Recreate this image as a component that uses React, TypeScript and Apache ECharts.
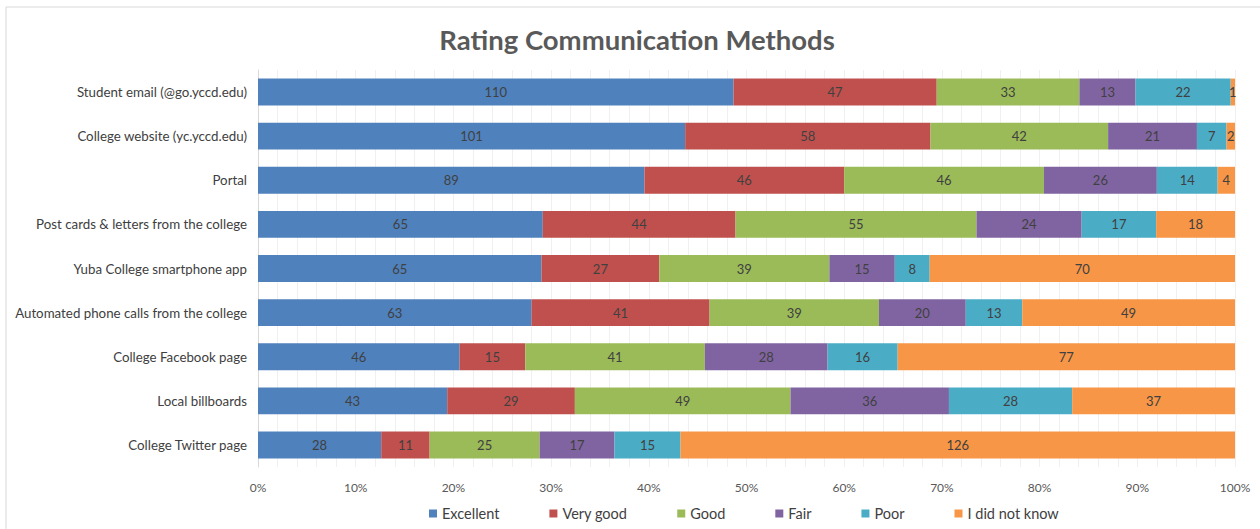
import React, { useEffect, useRef } from "react";
import * as echarts from "echarts";

const categories = [
  "Student email (@go.yccd.edu)",
  "College website (yc.yccd.edu)",
  "Portal",
  "Post cards & letters from the college",
  "Yuba College smartphone app",
  "Automated phone calls from the college",
  "College Facebook page",
  "Local billboards",
  "College Twitter page",
];

const seriesNames = ["Excellent", "Very good", "Good", "Fair", "Poor", "I did not know"];
const seriesColors = ["#4F81BD", "#C0504D", "#9BBB59", "#8064A2", "#4BACC6", "#F79646"];

const excellent = [110, 101, 89, 65, 65, 63, 46, 43, 28];
const veryGood = [47, 58, 46, 44, 27, 41, 15, 29, 11];
const good = [33, 42, 46, 55, 39, 39, 41, 49, 25];
const fair = [13, 21, 26, 24, 15, 20, 28, 36, 17];
const poor = [22, 7, 14, 17, 8, 13, 16, 28, 15];
const didNotKnow = [1, 2, 4, 18, 70, 49, 77, 37, 126];

const xTicks = ["0%", "10%", "20%", "30%", "40%", "50%", "60%", "70%", "80%", "90%", "100%"];

const FONT = "Lato, 'Open Sans', sans-serif";

export default function App() {
  const ref = useRef<HTMLDivElement>(null);

  useEffect(() => {
    if (!ref.current) return;
    const chart = echarts.init(ref.current, undefined, { renderer: "svg" });
    const all = [excellent, veryGood, good, fair, poor, didNotKnow];
    const totals = categories.map((_, i) => all.reduce((s, arr) => s + arr[i], 0));

    const series = all.map((arr, si) => ({
      name: seriesNames[si],
      type: "bar",
      stack: "total",
      barCategoryGap: "39%",
      itemStyle: { color: seriesColors[si] },
      label: {
        show: true,
        position: "inside",
        color: "#404040",
        fontFamily: FONT,
        fontSize: 13,
        formatter: (p: any) => String(arr[p.dataIndex]),
      },
      data: arr.map((v, i) => (v / totals[i]) * 100),
    }));

    chart.setOption({
      animation: false,
      backgroundColor: "#ffffff",
      title: {
        text: "Rating Communication Methods",
        left: 632,
        top: 20,
        textAlign: "center",
        textStyle: {
          fontFamily: FONT,
          fontSize: 27.5,
          fontWeight: "bold",
          color: "#595959",
        },
      },
      graphic: [
        {
          type: "rect",
          shape: { x: 6, y: 7, width: 1260, height: 540 },
          style: { fill: "none", stroke: "#d9d9d9", lineWidth: 1 },
          silent: true,
        },
      ],
      legend: {
        bottom: 3,
        left: 424,
        itemWidth: 8,
        itemHeight: 8,
        itemGap: 50,
        icon: "rect",
        textStyle: { fontFamily: FONT, fontSize: 14.5, color: "#404040" },
        data: seriesNames,
      },
      grid: { left: 258, right: 25, top: 70, bottom: 62 },
      xAxis: {
        type: "value",
        min: 0,
        max: 100,
        interval: 2,
        axisLine: { show: false },
        axisTick: { show: false },
        axisLabel: {
          fontFamily: FONT,
          fontSize: 12,
          color: "#595959",
          margin: 14,
          formatter: (v: number) => {
            const idx = Math.round(v / 10);
            return Math.abs(v - idx * 10) < 1e-6 ? xTicks[idx] : "";
          },
        },
        splitLine: { show: true, lineStyle: { color: "#f0f0f0", width: 1 } },
      },
      yAxis: {
        type: "category",
        inverse: true,
        data: categories,
        axisLine: { show: true, lineStyle: { color: "#d9d9d9" } },
        axisTick: { show: false },
        axisLabel: {
          fontFamily: FONT,
          fontSize: 13.3,
          color: "#404040",
          margin: 11,
        },
      },
      series,
    });

    return () => chart.dispose();
  }, []);

  return (
    <div
      ref={ref}
      style={{ position: "fixed", left: 0, top: 0, width: 1260, height: 529 }}
    />
  );
}
